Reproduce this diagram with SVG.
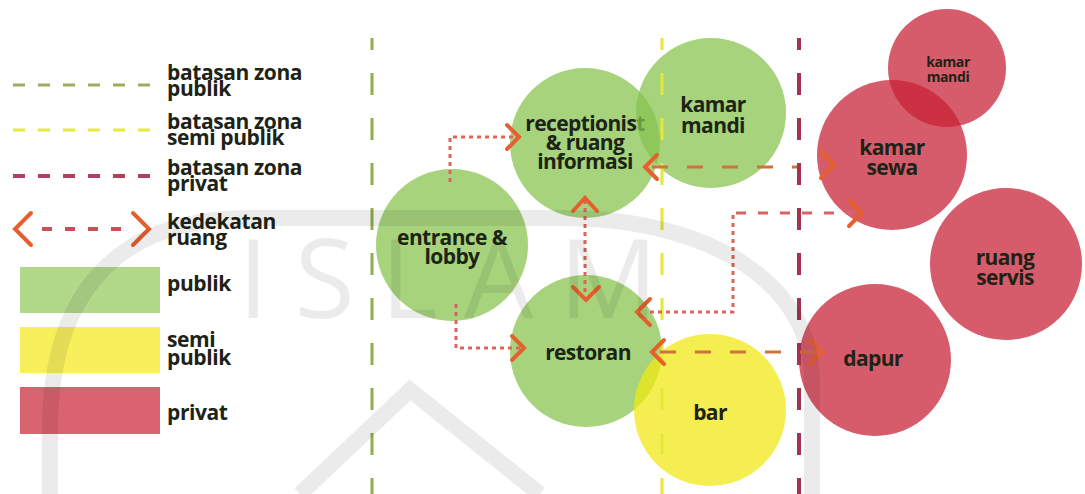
<svg xmlns="http://www.w3.org/2000/svg" width="1085" height="494" viewBox="0 0 1085 494">
  <style>
    .t { font-family: "Open Sans", "Liberation Sans", sans-serif; font-weight: 700; fill: #1d2316; }
    .lg { font-size: 21px; letter-spacing: -0.4px; }
    .nd { font-size: 21px; letter-spacing: -0.6px; text-anchor: middle; }
    .pub { fill: rgb(135,195,78); fill-opacity: 0.74; }
    .semi { fill: rgb(242,232,19); fill-opacity: 0.74; }
    .priv { fill: rgb(200,32,52); fill-opacity: 0.73; }
    .zg { stroke: #8fae4e; stroke-width: 3; fill: none; }
    .zy { stroke: #e4e83a; stroke-width: 3; fill: none; }
    .zr { stroke: #a3334f; stroke-width: 4; fill: none; }
    .dot { stroke: #d8665a; stroke-width: 3; fill: none; stroke-dasharray: 4 4; }
    .dash { stroke: #d2703e; stroke-width: 3; fill: none; stroke-dasharray: 16 19; }
    .dashp { stroke: #d5646a; stroke-width: 3; fill: none; stroke-dasharray: 10 12; }
    .chev { stroke: #e5602e; stroke-width: 4; fill: none; stroke-linecap: round; stroke-linejoin: miter; }
    .wm { fill: none; stroke: #000; stroke-opacity: 0.08; }
  </style>

  <rect width="1085" height="494" fill="#ffffff"/>

  <!-- legend -->
  <g id="legend">
    <line x1="13" y1="85" x2="152" y2="85" stroke="#9aae62" stroke-width="3" stroke-dasharray="12 13"/>
    <line x1="13" y1="130" x2="152" y2="130" stroke="#e6ea40" stroke-width="3" stroke-dasharray="12 13"/>
    <line x1="13" y1="176" x2="152" y2="176" stroke="#b0405e" stroke-width="4" stroke-dasharray="12 13"/>
    <line x1="42" y1="229" x2="124" y2="229" stroke="#c8505a" stroke-width="4" stroke-dasharray="10 13"/>
    <polyline class="chev" points="31,213 15,229 31,245"/>
    <polyline class="chev" points="133,213 149,229 133,245"/>
    <text class="t lg" x="167" y="80">batasan zona<tspan x="167" dy="16">publik</tspan></text>
    <text class="t lg" x="167" y="129">batasan zona<tspan x="167" dy="16">semi publik</tspan></text>
    <text class="t lg" x="167" y="175">batasan zona<tspan x="167" dy="16">privat</tspan></text>
    <text class="t lg" x="167" y="229">kedekatan<tspan x="167" dy="16">ruang</tspan></text>
    <rect x="20" y="267" width="140" height="46" fill="#b2d88a"/>
    <rect x="20" y="327" width="140" height="46" fill="#f7ef5c"/>
    <rect x="20" y="387" width="140" height="47" fill="#d9636e"/>
    <text class="t lg" x="167" y="291">publik</text>
    <text class="t lg" x="167" y="347">semi<tspan x="167" dy="18">publik</tspan></text>
    <text class="t lg" x="167" y="420">privat</text>
  </g>

  <!-- nodes -->
  <g id="entrance"><circle class="pub" cx="452" cy="245" r="76"/>
    <text class="t nd" x="452" y="245">entrance &amp;<tspan x="452" dy="19">lobby</tspan></text></g>
  <g id="receptionist"><circle class="pub" cx="585" cy="143" r="75"/>
    <text class="t nd" x="585" y="131">receptionist<tspan x="585" dy="19">&amp; ruang</tspan><tspan x="585" dy="19">informasi</tspan></text></g>
  <g id="kamar-mandi-publik"><circle class="pub" cx="711" cy="113" r="75"/>
    <text class="t nd" x="713" y="112">kamar<tspan x="713" dy="21">mandi</tspan></text></g>
  <g id="restoran"><circle class="pub" cx="586" cy="351" r="76"/>
    <text class="t nd" x="588" y="360">restoran</text></g>
  <g id="bar"><circle class="semi" cx="710" cy="410" r="76"/>
    <text class="t nd" x="710" y="420">bar</text></g>
  <g id="kamar-mandi-privat"><circle class="priv" cx="947" cy="68" r="59"/>
    <text class="t" x="948" y="67" font-size="14" text-anchor="middle" letter-spacing="-0.4">kamar<tspan x="948" dy="15">mandi</tspan></text></g>
  <g id="kamar-sewa"><circle class="priv" cx="892" cy="155" r="75"/>
    <text class="t nd" x="892" y="155">kamar<tspan x="892" dy="20">sewa</tspan></text></g>
  <g id="ruang-servis"><circle class="priv" cx="1006" cy="264" r="76"/>
    <text class="t nd" x="1005" y="265">ruang<tspan x="1005" dy="20">servis</tspan></text></g>
  <g id="dapur"><circle class="priv" cx="875" cy="360" r="76"/>
    <text class="t nd" x="873" y="366">dapur</text></g>

  <!-- zone boundaries -->
  <g id="zones">
    <line class="zg" x1="372" y1="38" x2="372" y2="494" stroke-dasharray="22 23" stroke-dashoffset="10"/>
    <line class="zy" x1="662" y1="38" x2="662" y2="494" stroke-dasharray="22 23" stroke-dashoffset="10"/>
    <line class="zr" x1="799" y1="38" x2="799" y2="494" stroke-dasharray="22 23" stroke-dashoffset="10"/>
  </g>

  <!-- connectors -->
  <g id="connectors">
    <polyline class="dot" points="450,182 450,137 516,137"/>
    <polyline class="chev" points="507,125 519,137 507,149"/>
    <polyline class="dot" points="456,304 456,348 521,348"/>
    <polyline class="chev" points="512,336 524,348 512,360"/>
    <line class="dot" x1="585" y1="200" x2="585" y2="296"/>
    <polyline class="chev" points="573,211 585,198 597,211"/>
    <polyline class="chev" points="573,287 586,300 599,287"/>
    <line class="dash" x1="652" y1="167" x2="797" y2="167"/>
    <polyline class="chev" points="657,155 645,167 657,179"/>
    <polyline class="chev" points="821,152 834,165 821,178"/>
    <polyline class="dot" points="650,312 733,312 733,213"/>
    <line class="dashp" x1="736" y1="213" x2="855" y2="213"/>
    <polyline class="chev" points="650,299 637,312 650,325"/>
    <polyline class="chev" points="849,201 862,213 849,226"/>
    <line class="dash" x1="660" y1="352" x2="815" y2="352" stroke-dasharray="12 11"/>
    <polyline class="chev" points="664,340 652,352 664,364"/>
    <polyline class="chev" points="810,340 822,352 810,364"/>
  </g>

  <!-- watermark -->
  <g id="watermark">
    <path class="wm" stroke-width="16" d="M 50 494 L 50 430 C 50 290 120 218 250 218 L 560 218 C 720 218 812 290 812 380 L 812 494"/>
    <text x="238" y="318" font-family="Open Sans, Liberation Sans, sans-serif" font-weight="400" font-size="110" fill="#000" fill-opacity="0.08" textLength="420" lengthAdjust="spacing">ISLAM</text>
    <path class="wm" stroke-width="16" d="M 300 494 L 410 390 L 540 494"/>
  </g>
</svg>
